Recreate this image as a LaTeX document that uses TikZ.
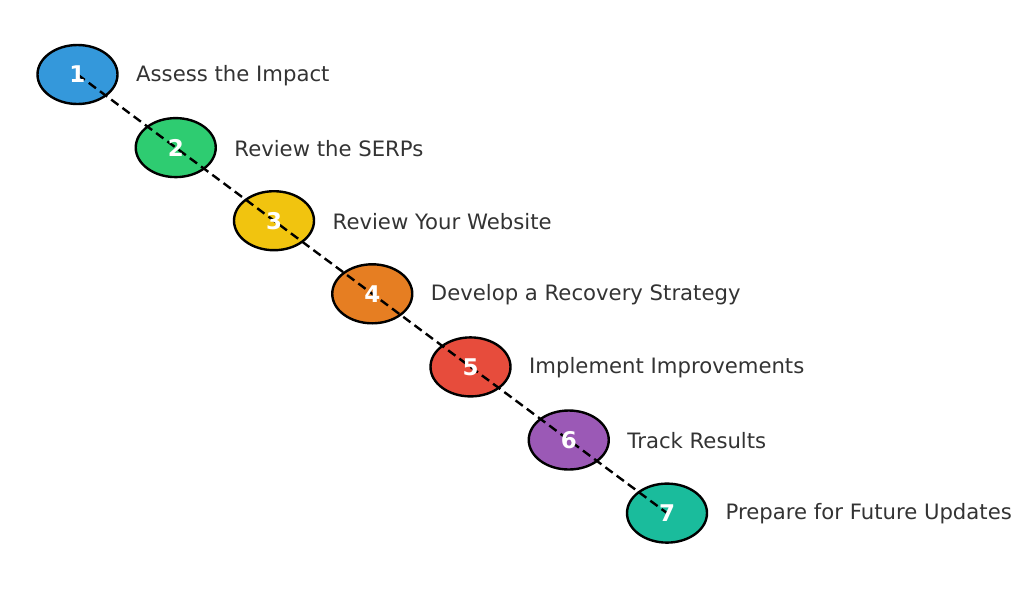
\documentclass[tikz,border=0pt]{standalone}
\usepackage{fontspec}
\setmainfont{DejaVu Sans}
\usetikzlibrary{shapes.geometric}
\definecolor{c1}{HTML}{3498DB}
\definecolor{c2}{HTML}{2ECC71}
\definecolor{c3}{HTML}{F1C40F}
\definecolor{c4}{HTML}{E67E22}
\definecolor{c5}{HTML}{E74C3C}
\definecolor{c6}{HTML}{9B59B6}
\definecolor{c7}{HTML}{1ABC9C}
\definecolor{txt}{HTML}{333333}
\tikzset{
  stepell/.style={ellipse, draw=black, line width=2.4pt, minimum width=80pt, minimum height=59pt, inner sep=0pt},
  num/.style={text=white, font=\fontsize{23}{27}\selectfont\bfseries, inner sep=0pt},
  lbl/.style={text=txt, font=\fontsize{21.2}{25}\selectfont, anchor=west, inner sep=0pt},
  link/.style={draw=black, line width=2.4pt, dash pattern=on 9pt off 5pt}
}
\begin{document}
\begin{tikzpicture}[x=1pt,y=-1pt]
\useasboundingbox (0,0) rectangle (1024,600);
\foreach \i/\c/\t in {1/c1/Assess the Impact,2/c2/Review the SERPs,3/c3/Review Your Website,4/c4/Develop a Recovery Strategy,5/c5/Implement Improvements,6/c6/Track Results,7/c7/Prepare for Future Updates}{
  \node[stepell, fill=\c] (e\i) at ({77.5+(\i-1)*98.25},{74.5+(\i-1)*73.1}) {};
  \node[lbl] (l\i) at ({136+(\i-1)*98.25},{75.5+(\i-1)*73.1}) {\t};
}
\draw[link] (e1.center) -- (e7.center);
\foreach \i in {1,...,7}{
  \node[num] (n\i) at (e\i.center) {\i};
}
\end{tikzpicture}
\end{document}
